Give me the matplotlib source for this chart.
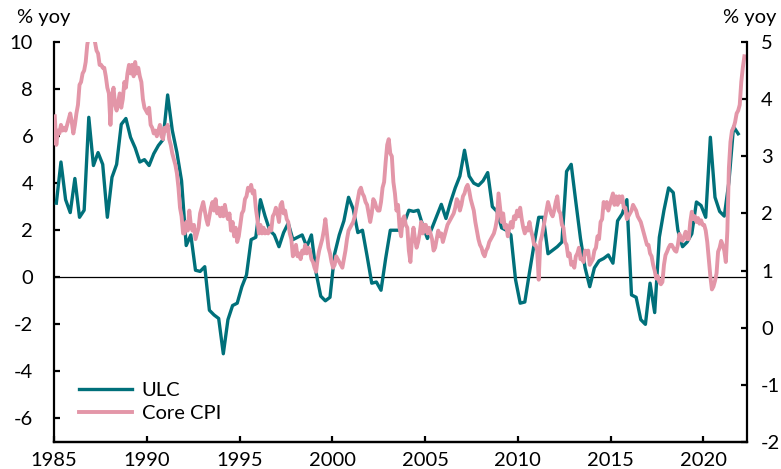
import numpy as np
import matplotlib
matplotlib.use("Agg")
import matplotlib.pyplot as plt

plt.rcParams['font.family'] = ['Lato', 'DejaVu Sans']
plt.rcParams['axes.unicode_minus'] = False

# unit labour costs, % yoy, quarterly from 1985Q1 (left axis)
ulc_start = 1985
ulc = [
    3.15, 4.9, 3.3, 2.75,      # 1985
    4.2, 2.55, 2.85, 6.8,      # 1986
    4.75, 5.3, 4.8, 2.55,      # 1987
    4.25, 4.8, 6.5, 6.75,      # 1988
    5.95, 5.5, 4.9, 5.0,       # 1989
    4.75, 5.25, 5.6, 5.85,     # 1990
    7.75, 6.25, 5.3, 4.1,      # 1991
    1.35, 1.8, 0.3, 0.25,      # 1992
    0.45, -1.4, -1.6, -1.75,   # 1993
    -3.25, -1.8, -1.2, -1.1,   # 1994
    -0.4, 0.1, 1.6, 1.7,       # 1995
    3.3, 2.6, 2.0, 1.8,        # 1996
    1.3, 1.9, 2.3, 1.6,        # 1997
    1.7, 1.8, 1.3, 1.8,        # 1998
    0.2, -0.8, -1.0, -0.85,    # 1999
    1.0, 1.8, 2.4, 3.4,        # 2000
    2.9, 1.9, 2.0, 0.9,        # 2001
    -0.25, -0.2, -0.55, 0.8,   # 2002
    2.0, 2.0, 2.0, 2.3,        # 2003
    2.85, 2.8, 2.85, 2.2,      # 2004
    1.65, 2.1, 2.6, 3.1,       # 2005
    2.5, 3.2, 3.8, 4.3,        # 2006
    5.4, 4.3, 4.0, 3.9,        # 2007
    4.1, 4.45, 3.0, 2.8,       # 2008
    2.1, 2.0, 1.8, -0.1,       # 2009
    -1.1, -1.05, 0.2, 1.4,     # 2010
    2.55, 2.55, 1.0, 1.15,     # 2011
    1.3, 1.5, 4.5, 4.8,        # 2012
    3.2, 1.65, 0.4, -0.4,      # 2013
    0.4, 0.7, 0.8, 0.95,       # 2014
    0.6, 2.4, 2.7, 3.3,        # 2015
    -0.75, -0.85, -1.8, -2.0,  # 2016
    -0.25, -1.5, 1.7, 2.85,    # 2017
    3.8, 3.6, 2.0, 1.3,        # 2018
    1.5, 1.85, 3.2, 3.05,      # 2019
    2.55, 5.95, 3.4, 2.8,      # 2020
    2.6, 4.05, 6.4, 6.1,       # 2021
]

# core CPI, % yoy, monthly from Jan 1985 (right axis)
cpi_start = 1985
core_cpi = [
    3.70, 3.20, 3.45, 3.40, 3.55, 3.45, 3.50, 3.45, 3.55, 3.65, 3.75, 3.60,  # 1985
    3.40, 3.55, 3.75, 3.90, 4.25, 4.30, 4.45, 4.50, 4.65, 4.95, 5.10, 5.20,  # 1986
    5.20, 5.10, 5.00, 4.85, 4.80, 4.60, 4.60, 4.55, 4.55, 4.40, 4.20, 4.10,  # 1987
    3.55, 4.05, 4.20, 3.90, 3.80, 3.95, 4.10, 3.85, 4.00, 4.30, 4.20, 4.45,  # 1988
    4.60, 4.45, 4.60, 4.40, 4.65, 4.45, 4.55, 4.40, 4.30, 4.00, 3.85, 3.80,  # 1989
    3.75, 3.85, 3.55, 3.50, 3.40, 3.45, 3.35, 3.45, 3.55, 3.35, 3.30, 3.50,  # 1990
    3.45, 3.55, 3.30, 3.20, 3.05, 2.95, 2.85, 2.70, 2.45, 2.10, 1.95, 1.65,  # 1991
    1.65, 1.85, 1.70, 2.05, 1.80, 1.70, 1.80, 1.55, 1.65, 1.75, 2.00, 2.10,  # 1992
    2.20, 2.05, 1.90, 1.80, 1.95, 2.10, 2.20, 2.05, 2.25, 2.00, 2.10, 1.95,  # 1993
    2.10, 1.95, 2.15, 2.00, 1.90, 2.00, 1.70, 1.85, 1.60, 1.75, 1.50, 1.60,  # 1994
    1.80, 2.00, 2.05, 2.25, 2.30, 2.45, 2.40, 2.50, 2.35, 2.40, 2.10, 1.90,  # 1995
    1.65, 1.80, 1.65, 1.75, 1.65, 1.70, 1.65, 1.75, 1.70, 1.95, 2.00, 2.10,  # 1996
    2.00, 1.85, 2.15, 2.20, 2.00, 2.05, 1.90, 1.85, 1.65, 1.55, 1.25, 1.30,  # 1997
    1.45, 1.25, 1.30, 1.20, 1.35, 1.30, 1.45, 1.30, 1.40, 1.35, 1.20, 1.15,  # 1998
    1.05, 0.98, 1.20, 1.35, 1.45, 1.55, 1.70, 1.90, 1.65, 1.40, 1.30, 1.15,  # 1999
    1.05, 1.10, 1.25, 1.20, 1.15, 1.10, 1.05, 1.20, 1.35, 1.55, 1.70, 1.75,  # 2000
    1.80, 1.85, 1.95, 2.10, 2.25, 2.40, 2.45, 2.35, 2.30, 2.20, 2.15, 2.00,  # 2001
    1.85, 2.00, 2.25, 2.20, 2.10, 2.05, 2.05, 2.20, 2.45, 2.55, 2.90, 3.20,  # 2002
    3.30, 3.05, 3.00, 2.55, 2.35, 2.05, 2.15, 1.75, 1.60, 1.90, 1.95, 1.80,  # 2003
    1.75, 1.35, 1.15, 1.55, 1.75, 1.55, 1.40, 1.50, 1.65, 1.85, 1.65, 1.80,  # 2004
    1.80, 1.65, 1.75, 1.65, 1.55, 1.35, 1.40, 1.55, 1.70, 1.60, 1.65, 1.50,  # 2005
    1.60, 1.70, 1.80, 1.85, 1.90, 1.95, 2.00, 2.10, 2.25, 2.20, 2.05, 2.15,  # 2006
    2.30, 2.35, 2.45, 2.50, 2.40, 2.25, 2.15, 2.05, 1.85, 1.70, 1.55, 1.45,  # 2007
    1.40, 1.30, 1.25, 1.35, 1.40, 1.50, 1.55, 1.60, 1.65, 1.75, 1.90, 2.35,  # 2008
    2.10, 1.85, 2.00, 1.75, 1.80, 1.60, 1.75, 1.85, 1.75, 1.95, 1.90, 2.05,  # 2009
    1.95, 2.10, 1.90, 1.75, 1.65, 1.75, 1.70, 1.85, 1.70, 1.60, 1.45, 1.45,  # 2010
    1.35, 0.84, 1.50, 1.60, 1.75, 1.90, 2.05, 2.20, 2.10, 2.00, 1.95, 2.05,  # 2011
    2.20, 2.30, 2.05, 2.00, 1.80, 1.75, 1.50, 1.45, 1.25, 1.30, 1.10, 1.15,  # 2012
    1.05, 1.25, 1.30, 1.40, 1.20, 1.20, 1.15, 1.35, 1.30, 1.35, 1.10, 1.15,  # 2013
    1.20, 1.35, 1.40, 1.60, 1.55, 1.85, 1.90, 2.20, 2.10, 2.20, 2.05, 2.15,  # 2014
    2.25, 2.35, 2.15, 2.30, 2.15, 2.30, 2.20, 2.30, 2.10, 2.10, 1.90, 1.95,  # 2015
    2.00, 2.05, 2.15, 2.10, 2.05, 1.95, 1.90, 1.85, 1.75, 1.65, 1.55, 1.45,  # 2016
    1.45, 1.30, 1.25, 1.10, 1.00, 0.86, 0.90, 0.80, 0.76, 0.80, 1.10, 1.27,  # 2017
    1.33, 1.40, 1.45, 1.45, 1.40, 1.35, 1.33, 1.45, 1.64, 1.55, 1.52, 1.60,  # 2018
    1.68, 1.55, 1.55, 1.85, 2.03, 1.90, 1.95, 1.85, 1.92, 1.82, 1.88, 1.80,  # 2019
    1.80, 1.70, 1.50, 1.21, 0.90, 0.67, 0.72, 0.82, 0.95, 1.33, 1.40, 1.52,  # 2020
    1.45, 1.35, 1.15, 1.70, 2.80, 3.25, 3.45, 3.50, 3.60, 3.75, 3.80, 3.90,  # 2021
    4.30, 4.55, 4.75,                                                        # 2022
]

teal = '#00707a'
pink = '#e396a8'

ulc_x = ulc_start + 0.125 + 0.25 * np.arange(len(ulc))
cpi_x = cpi_start + (np.arange(len(core_cpi)) + 0.5) / 12

fig = plt.figure(figsize=(7.81, 4.69), dpi=100)
ax = fig.add_axes([54 / 781, 1 - 442 / 469, (747 - 54) / 781, 400 / 469])
ax2 = ax.twinx()

ax.axhline(0, color='black', linewidth=0.9, zorder=1)
l1, = ax.plot(ulc_x, ulc, color=teal, linewidth=2.4, label='ULC', zorder=3)
l2, = ax2.plot(cpi_x, core_cpi, color=pink, linewidth=2.8, label='Core CPI')

ax.set_xlim(1985, 2022.35)
ax.set_ylim(-7, 10)
ax2.set_ylim(-2, 5)
ax.set_xticks(range(1985, 2021, 5))
ax.set_yticks(range(-6, 11, 2))
ax2.set_yticks(range(-2, 6))

fs = 14.5
for a in (ax, ax2):
    a.spines['top'].set_visible(False)
    for s in ('left', 'right', 'bottom'):
        a.spines[s].set_linewidth(1.6)
    a.tick_params(direction='in', length=4, width=1.6, labelsize=fs)
ax.spines['right'].set_visible(False)
ax2.spines['left'].set_visible(False)
ax.tick_params(axis='y', pad=15)
ax.tick_params(axis='x', pad=7)
ax2.tick_params(axis='y', pad=10)

fig.text(17 / 781, 1 - 18 / 469, '% yoy', fontsize=fs, ha='left', va='center')
fig.text(776 / 781, 1 - 18 / 469, '% yoy', fontsize=fs, ha='right', va='center')

ax.legend([l1, l2], ['ULC', 'Core CPI'], loc='lower left', frameon=False,
          fontsize=fs, handlelength=2.6, borderaxespad=0.0,
          bbox_to_anchor=(0.025, 0.03), labelspacing=0.3, handletextpad=0.5)

fig.savefig('out.png', dpi=100)
